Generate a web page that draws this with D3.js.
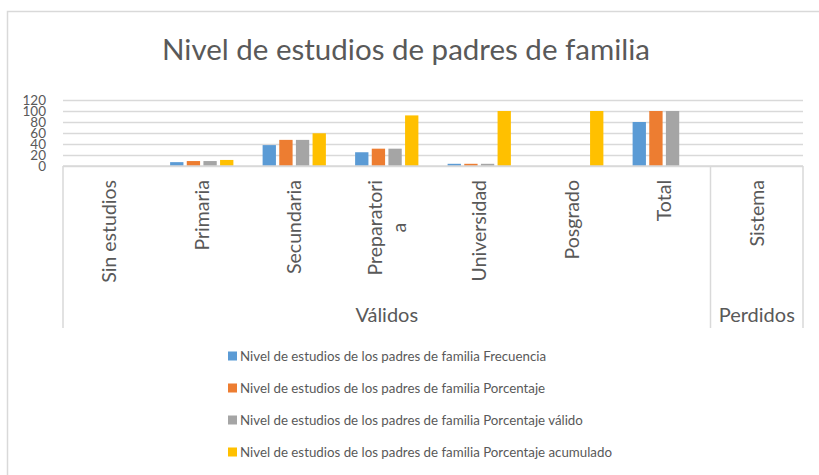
<!DOCTYPE html>
<html>
<head>
<meta charset="utf-8">
<script src="https://cdn.jsdelivr.net/npm/d3@7"></script>
<style>
  body { margin: 0; background: #fff; }
  text { font-family: Lato, "Open Sans", sans-serif; fill: #595959; }
</style>
</head>
<body>
<div id="chart"></div>
<script>
// data
var categories = ["Sin estudios", "Primaria", "Secundaria", "Preparatoria", "Universidad", "Posgrado", "Total", "Sistema"];
var tickLabels = [["Sin estudios"], ["Primaria"], ["Secundaria"], ["Preparatori", "a"], ["Universidad"], ["Posgrado"], ["Total"], ["Sistema"]];
var groupNames = ["Válidos", "Perdidos"];
var groupOf = ["Válidos", "Válidos", "Válidos", "Válidos", "Válidos", "Válidos", "Válidos", "Perdidos"];
var frecuencia = [null, 7, 38, 25, 4, null, 80, null];
var porcentaje = [null, 9, 47.5, 31.5, 4, null, 100, null];
var porcValido = [null, 9, 47.5, 31.5, 4, null, 100, null];
var porcAcum = [null, 11, 59.5, 92, 100, 100, null, null];
var seriesNames = [
    "Nivel de estudios de los padres de familia Frecuencia",
    "Nivel de estudios de los padres de familia Porcentaje",
    "Nivel de estudios de los padres de familia Porcentaje válido",
    "Nivel de estudios de los padres de familia Porcentaje acumulado"
];
var yTicks = [0, 20, 40, 60, 80, 100, 120];

var colors = ["#5B9BD5", "#ED7D31", "#A5A5A5", "#FFC000"];
var allSeries = [frecuencia, porcentaje, porcValido, porcAcum];

var W = 819, H = 475;
var pLeft = 63, pRight = 803, pTop = 100, pBottom = 166;

var svg = d3.select("#chart").append("svg")
    .attr("width", W)
    .attr("height", H)

// chart border
svg.append("rect")
    .attr("x", 7.5).attr("y", 11.5)
    .attr("width", W + 10).attr("height", H + 10)
    .attr("fill", "none")
    .attr("stroke", "#D9D9D9")
    .attr("stroke-width", 1.5)

svg.append("text")
    .attr("x", 406)
    .attr("y", 60)
    .attr("text-anchor", "middle")
    .style("font-size", "29.5px")
    .text("Nivel de estudios de padres de familia")

var x = d3.scaleBand()
    .domain(categories)
    .range([pLeft, pRight])
    .paddingInner(0)
    .paddingOuter(0)

var y = d3.scaleLinear()
    .domain([0, 120])
    .range([pBottom, pTop])

var inner = d3.scaleBand()
    .domain(d3.range(4))
    .range([x.bandwidth() * 0.158, x.bandwidth() * 0.842])
    .paddingInner(0.2)

// gridlines
svg.append("g")
    .attr("class", "grid")
    .attr("transform", "translate(" + pLeft + ",0)")
    .call(d3.axisLeft(y).tickValues(yTicks).tickSize(-(pRight - pLeft)).tickFormat(""))
    .call(function(g) {
        g.select(".domain").remove()
        g.selectAll("line").attr("stroke", "#D9D9D9").attr("stroke-width", 1.5)
    })

// y labels (they crowd each other in the original too)
svg.append("g")
    .attr("class", "yax")
    .selectAll("text")
    .data(yTicks)
    .enter()
    .append("text")
        .attr("x", 46)
        .attr("y", function(d) { return y(d) })
        .attr("dy", "0.36em")
        .attr("text-anchor", "end")
        .style("font-size", "13.5px")
        .text(function(d) { return d })

// bars
allSeries.forEach(function(vals, s) {
    svg.append("g")
        .selectAll("rect")
        .data(categories.map(function(c, i) { return { cat: c, v: vals[i] } }).filter(function(d) { return d.v != null }))
        .enter()
        .append("rect")
            .attr("x", function(d) { return x(d.cat) + inner(s) })
            .attr("y", function(d) { return y(d.v) })
            .attr("width", inner.bandwidth())
            .attr("height", function(d) { return pBottom - y(d.v) })
            .attr("fill", colors[s])
})

// category axis line
svg.append("line")
    .attr("x1", pLeft).attr("x2", pRight)
    .attr("y1", pBottom).attr("y2", pBottom)
    .attr("stroke", "#D9D9D9").attr("stroke-width", 1.5)

// group separators
var groupEdges = [pLeft]
groupNames.forEach(function(g) {
    var cats = categories.filter(function(c, i) { return groupOf[i] == g })
    groupEdges.push(x(cats[cats.length - 1]) + x.bandwidth())
})
svg.selectAll("line.sep")
    .data(groupEdges)
    .enter()
    .append("line")
        .attr("class", "sep")
        .attr("x1", function(d) { return d }).attr("x2", function(d) { return d })
        .attr("y1", pBottom).attr("y2", 328)
        .attr("stroke", "#D9D9D9").attr("stroke-width", 1.5)

// rotated category labels, top aligned at y=180
var labelTop = 180
categories.forEach(function(c, i) {
    var lines = tickLabels[i]
    var cx = x(c) + x.bandwidth() / 2
    var lh = 24
    var g = svg.append("g")
    var texts = lines.map(function(line, k) {
        return g.append("text")
            .style("font-size", "19.5px")
            .attr("text-anchor", "middle")
            .attr("dy", "0.35em")
            .text(line)
    })
    var maxLen = d3.max(texts, function(t) { return t.node().getComputedTextLength() })
    texts.forEach(function(t, k) {
        var px = cx + (k - (lines.length - 1) / 2) * lh
        t.attr("transform", "translate(" + px + "," + (labelTop + maxLen / 2) + ") rotate(-90)")
    })
})

// group labels
groupNames.forEach(function(g) {
    var cats = categories.filter(function(c, i) { return groupOf[i] == g })
    var x0 = x(cats[0]), x1 = x(cats[cats.length - 1]) + x.bandwidth()
    svg.append("text")
        .attr("x", (x0 + x1) / 2)
        .attr("y", 322)
        .attr("text-anchor", "middle")
        .style("font-size", "20px")
        .text(g)
})

// legend
var legend = svg.append("g")
    .selectAll("g")
    .data(seriesNames)
    .enter()
    .append("g")
        .attr("transform", function(d, i) { return "translate(228," + (356 + i * 32) + ")" })

legend.append("rect")
    .attr("x", 0).attr("y", -4.5)
    .attr("width", 9).attr("height", 9)
    .attr("fill", function(d, i) { return colors[i] })

legend.append("text")
    .attr("x", 12)
    .attr("dy", "0.35em")
    .style("font-size", "13.3px")
    .text(function(d) { return d })
</script>
</body>
</html>
